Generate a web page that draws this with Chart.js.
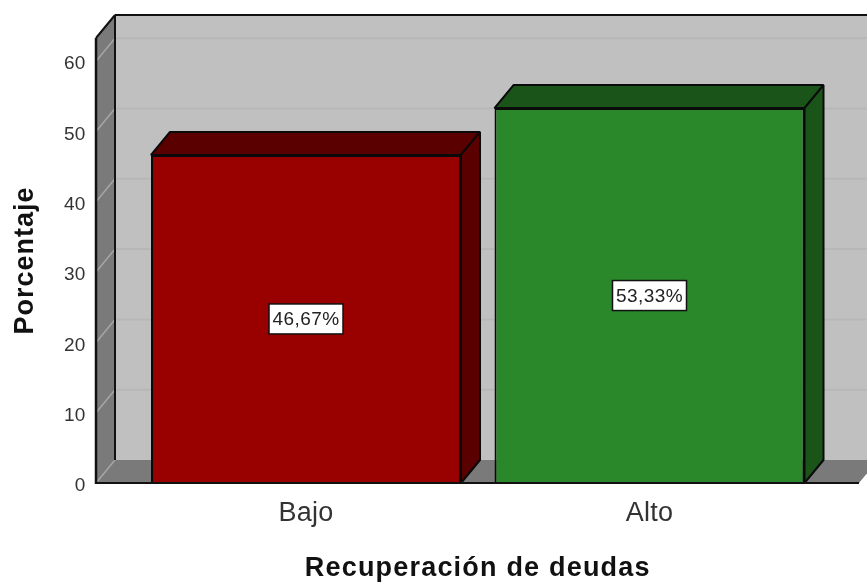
<!DOCTYPE html>
<html><head><meta charset="utf-8">
<style>html,body{margin:0;padding:0;background:#fff}canvas{display:block}</style>
<script src="https://cdn.jsdelivr.net/npm/chart.js@4"></script>
</head><body><canvas id="c" width="867" height="585"></canvas>
<script>
const categories = ['Bajo', 'Alto'];
const percentages = [46.67, 53.33];
const yTicks = [0, 10, 20, 30, 40, 50, 60];
const valueLabels = ['46,67%', '53,33%'];
const frontColors = ['#990000', '#2a872a'];
const sideColors = ['#5a0000', '#1a5418'];
const yTitle = 'Porcentaje';
const xTitle = 'Recuperación de deudas';
const DX = 19, DY = 23;
const FONT = '"Liberation Sans", Arial, sans-serif';

function poly(ctx, pts, fill, stroke, lw) {
  ctx.beginPath();
  pts.forEach((p, i) => i ? ctx.lineTo(p[0], p[1]) : ctx.moveTo(p[0], p[1]));
  ctx.closePath();
  if (fill) { ctx.fillStyle = fill; ctx.fill(); }
  if (stroke) { ctx.strokeStyle = stroke; ctx.lineWidth = lw; ctx.lineJoin = 'bevel'; ctx.stroke(); }
}
function seg(ctx, a, b, c, w) {
  ctx.beginPath(); ctx.moveTo(a[0], a[1]); ctx.lineTo(b[0], b[1]);
  ctx.strokeStyle = c; ctx.lineWidth = w; ctx.stroke();
}
function spaced(scale, method, px) {
  if (scale['_sp' + method]) return;
  scale['_sp' + method] = true;
  const orig = scale[method];
  scale[method] = function (...args) {
    const c = this.ctx;
    c.save(); c.letterSpacing = px + 'px';
    orig.apply(this, args);
    c.restore();
  };
}
const box3d = {
  id: 'box3d',
  beforeDraw(chart) {
    const { x, y } = chart.scales;
    spaced(x, 'drawTitle', 1.2);
    spaced(y, 'drawTitle', 1);
    spaced(x, 'drawLabels', 0.3);
  },
  beforeDatasetsDraw(chart) {
    const { ctx, scales: { x, y } } = chart;
    const L = 96, R = 859, B = y.getPixelForValue(0), T = y.top;
    ctx.save();
    poly(ctx, [[L + DX, T - DY], [R + DX + 10, T - DY], [R + DX + 10, B - DY], [L + DX, B - DY]], '#c0c0c0');
    poly(ctx, [[L, T], [L + DX, T - DY], [L + DX, B - DY], [L, B]], '#7a7a7a');
    poly(ctx, [[L, B], [L + DX, B - DY], [R + DX, B - DY], [R, B]], '#7a7a7a');
    yTicks.slice(1).forEach(v => {
      const py = y.getPixelForValue(v);
      seg(ctx, [L + DX, py - DY], [R + DX + 10, py - DY], '#b7b7b7', 2);
      seg(ctx, [L, py], [L + DX, py - DY], '#a6a6a6', 1.5);
    });
    seg(ctx, [L, B], [L + DX, B - DY], '#a6a6a6', 1.5);
    seg(ctx, [L + DX, T - DY], [R + DX + 10, T - DY], '#111', 2);
    seg(ctx, [L + DX, T - DY], [L + DX, B - DY], '#111', 2);
    seg(ctx, [L, T], [L + DX, T - DY], '#111', 2);
    seg(ctx, [L, T], [L, B + 1], '#111', 2.5);
    chart.getDatasetMeta(0).data.forEach((bar, i) => {
      const l = bar.x - bar.width / 2, r = bar.x + bar.width / 2, t = bar.y, b = bar.base;
      poly(ctx, [[l, t], [l + DX, t - DY], [r + DX, t - DY], [r, t]], sideColors[i], '#0a0a0a', 2);
      poly(ctx, [[r, t], [r + DX, t - DY], [r + DX, b - DY], [r, b]], sideColors[i], '#0a0a0a', 2);
    });
    ctx.restore();
  },
  afterDatasetsDraw(chart) {
    const { ctx, scales: { y } } = chart;
    const B = y.getPixelForValue(0);
    ctx.save();
    seg(ctx, [95, B], [859, B], '#111', 2);
    ctx.font = '19px ' + FONT;
    ctx.letterSpacing = '0.4px';
    ctx.textAlign = 'center'; ctx.textBaseline = 'middle';
    chart.getDatasetMeta(0).data.forEach((bar, i) => {
      const cy = (bar.y + bar.base) / 2;
      const w = 74;
      ctx.fillStyle = '#fff'; ctx.strokeStyle = '#111'; ctx.lineWidth = 1.5;
      ctx.fillRect(bar.x - w / 2, cy - 15, w, 30);
      ctx.strokeRect(bar.x - w / 2, cy - 15, w, 30);
      ctx.fillStyle = '#222';
      ctx.fillText(valueLabels[i], bar.x, cy + 1);
    });
    ctx.restore();
  }
};
new Chart(document.getElementById('c'), {
  type: 'bar',
  data: {
    labels: categories,
    datasets: [{
      data: percentages,
      backgroundColor: frontColors,
      borderColor: '#0a0a0a',
      borderWidth: 2,
      barPercentage: 0.9025,
      categoryPercentage: 1
    }]
  },
  options: {
    responsive: false,
    animation: false,
    layout: { padding: { top: 38, right: 45.75, bottom: 0, left: 0 } },
    plugins: { legend: { display: false }, tooltip: { enabled: false } },
    scales: {
      x: {
        grid: { display: false, drawTicks: false },
        border: { display: false },
        ticks: { color: '#333', font: { family: FONT, size: 27 }, padding: 14, maxRotation: 0 },
        title: { display: true, text: xTitle, color: '#111', font: { family: FONT, size: 27, weight: 'bold' }, padding: { top: 24, bottom: 0 } },
        afterFit(s) { s.height = 102; s.paddingLeft = 0; s.paddingRight = 0; }
      },
      y: {
        min: 0, max: 63.3,
        grid: { display: false, drawTicks: false },
        border: { display: false },
        afterBuildTicks(s) { s.ticks = yTicks.map(v => ({ value: v })); },
        ticks: { color: '#333', font: { family: FONT, size: 19 }, padding: 49, labelOffset: 3 },
        title: { display: true, text: yTitle, color: '#111', font: { family: FONT, size: 27, weight: 'bold' }, padding: { top: 9, bottom: 0 } },
        afterFit(s) { s.width = 134.25; s.paddingTop = 0; s.paddingBottom = 0; }
      }
    }
  },
  plugins: [box3d]
});
</script></body></html>
